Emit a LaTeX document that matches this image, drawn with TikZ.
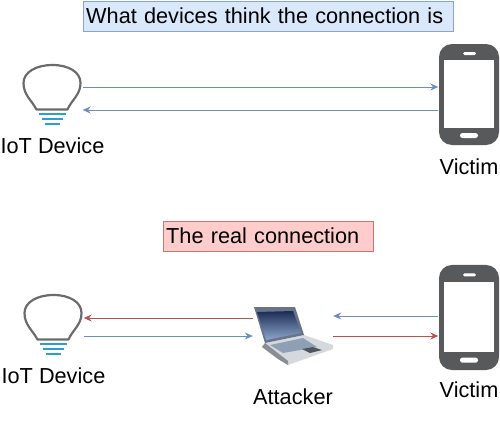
\documentclass[tikz,border=0pt]{standalone}
\usepackage{xcolor}
\usepackage{fontspec}
\setmainfont{Liberation Sans}
\usetikzlibrary{arrows.meta, positioning}
\definecolor{bluefill}{HTML}{DAE8FC}
\definecolor{blueline}{HTML}{6C8EBF}
\definecolor{redfill}{HTML}{FFCCCC}
\definecolor{redline}{HTML}{B85450}
\definecolor{bulbgray}{HTML}{6B6B6B}
\definecolor{bulbblue}{HTML}{2A9FD6}
\definecolor{phonegray}{HTML}{58595B}
\definecolor{lidgray}{HTML}{6A7488}
\definecolor{screentop}{HTML}{1D2C56}
\definecolor{screenlow}{HTML}{8CA6CC}
\definecolor{basegray}{HTML}{D5D8DC}
\definecolor{edgegray}{HTML}{8A8E94}
\definecolor{keysblue}{HTML}{8FA0B5}
\definecolor{padgray}{HTML}{4E5660}
\tikzstyle{bluetitle} = [rectangle, anchor=north west, minimum height=30pt, inner sep=3pt, align=left, draw=blueline!80, fill=bluefill, font=\fontsize{21.7}{25}\selectfont]
\tikzstyle{redtitle} = [rectangle, anchor=north west, minimum height=30pt, inner sep=3pt, align=left, draw=redline!80, fill=redfill, font=\fontsize{21.7}{25}\selectfont]
\tikzstyle{bulbbox} = [rectangle, minimum width=60pt, minimum height=46pt, inner sep=0pt]
\tikzstyle{phonebox} = [rectangle, minimum width=61pt, minimum height=101pt, inner sep=0pt]
\tikzstyle{laptopbox} = [rectangle, minimum width=80pt, minimum height=60pt, inner sep=0pt]
\tikzstyle{caption} = [inner sep=0pt, font=\fontsize{21.7}{25}\selectfont]
\tikzstyle{bluearrow} = [draw=blueline, line width=1pt, -{Stealth[length=8pt, width=7pt]}]
\tikzstyle{redarrow} = [draw=redline, line width=1pt, -{Stealth[length=8pt, width=7pt]}]
\tikzset{
  bulb/.pic={
    \draw [bulbgray, line width=2.2pt, line join=round] (-16,22.5) -- (15,22.5) .. controls (19,13) and (28,8) .. (28,-4) .. controls (28,-15) and (16,-22) .. (0,-22) .. controls (-16,-22) and (-29,-15) .. (-29,-4) .. controls (-29,8) and (-21,13) .. (-16,22.5) -- cycle;
    \draw [bulbblue, line width=1.6pt] (-14,27) -- (13,27) (-11,32) -- (10,32) (-8,37) -- (7,37);
  },
  phone/.pic={
    \fill [phonegray, rounded corners=13pt] (-30,-50.5) rectangle (30,50.5);
    \fill [white] (-25,-34.5) rectangle (25,33.5);
    \fill [white, rounded corners=1.5pt] (-6,-42.5) rectangle (7,-39.5);
    \fill [white, rounded corners=2.5pt] (-9,38.5) rectangle (9,43.5);
  },
  laptop/.pic={
    \fill [basegray] (-28,8) -- (11,0) -- (40,10) -- (40,14) -- (-5,30) -- (-15,24) -- (-31,12) -- cycle;
    \fill [edgegray] (-31,12) -- (-15,24) -- (-5,30) -- (-5,26) -- (-28,8) -- cycle;
    \fill [lidgray] (-39,-28) -- (2,-28) -- (11,0) -- (-28,8) -- cycle;
    \shade [top color=screentop, bottom color=screenlow] (-36,-23) -- (0,-24) -- (8,-2) -- (-27,5) -- cycle;
    \fill [keysblue] (-23,10) -- (10,3) -- (24,12) -- (-10,18) -- cycle;
    \fill [padgray] (9,14) -- (20,12) -- (29,15) -- (17,18) -- cycle;
  }
}
\begin{document}
\begin{tikzpicture}[x=1pt, y=-1pt, node distance=20pt]
\useasboundingbox (0,0) rectangle (500,434);

\node (titletop) [bluetitle, text width=364pt] at (83,1) {What devices think the connection is};
\node (titlebottom) [redtitle, text width=204pt] at (163,221) {The real connection};

\node (bulbtop) [bulbbox] at (52.5,87) {};
\pic at (52.5,87) {bulb};
\node (phonetop) [phonebox] at (469,94.5) {};
\pic at (469,94.5) {phone};
\node (iottop) [caption, below=27pt of bulbtop] {IoT Device};
\node (victimtop) [caption, below=13pt of phonetop] {Victim};

\node (bulbbottom) [bulbbox] at (53.5,317) {};
\pic at (53.5,317) {bulb};
\node (laptopbottom) [laptopbox] at (293,335) {};
\pic at (293,335) {laptop};
\node (phonebottom) [phonebox, minimum height=105pt] at (469,317.5) {};
\pic [yscale=1.04] at (469,317.5) {phone};
\node (iotbottom) [caption, below=27pt of bulbbottom] {IoT Device};
\node (attacker) [caption, below=23pt of laptopbottom] {Attacker};
\node (victimbottom) [caption, below=11pt of phonebottom] {Victim};

\draw [bluearrow] (bulbtop.east) -- ([yshift=7.5pt]phonetop.west);
\draw [bluearrow] ([yshift=-15.5pt]phonetop.west) -- ([yshift=-23pt]bulbtop.east);
\draw [redarrow] ([yshift=17pt]laptopbottom.west) -- ([yshift=-1pt]bulbbottom.east);
\draw [bluearrow] ([yshift=-19pt]bulbbottom.east) -- ([yshift=-1pt]laptopbottom.west);
\draw [bluearrow] ([yshift=1.5pt]phonebottom.west) -- ([yshift=19pt]laptopbottom.east);
\draw [redarrow] ([yshift=-1pt]laptopbottom.east) -- ([yshift=-18.5pt]phonebottom.west);

\end{tikzpicture}
\end{document}
